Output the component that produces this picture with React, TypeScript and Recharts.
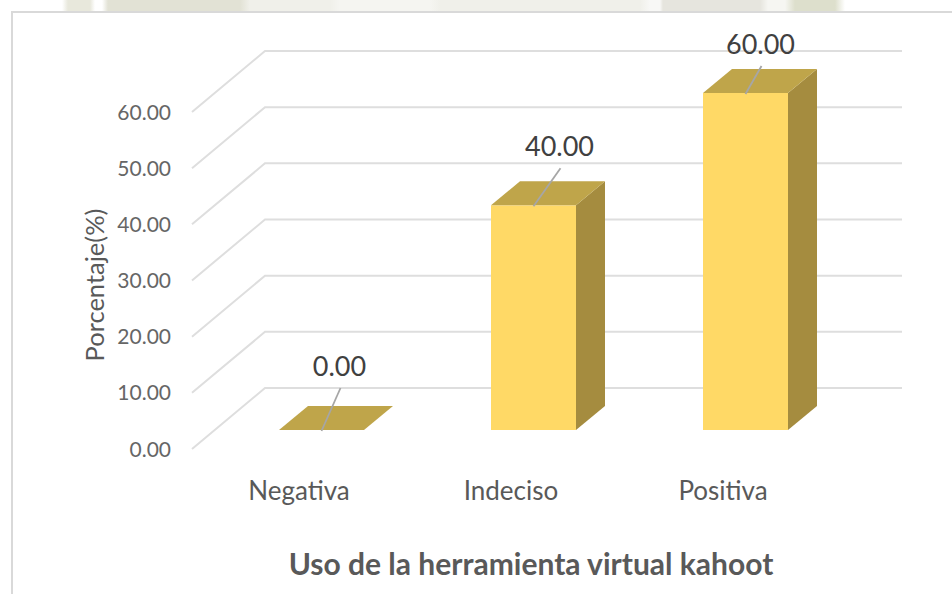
import { BarChart, Bar, XAxis, YAxis, CartesianGrid, LabelList, Label } from "recharts";

const categories = ["Negativa", "Indeciso", "Positiva"];
const percentages = [0, 40, 60];
const yTicks = [0, 10, 20, 30, 40, 50, 60];

const chartData = categories.map((name, i) => ({ name, value: percentages[i] }));

const FONT = "Lato, Carlito, sans-serif";
// oblique depth of the fake 3D box
const DEPTH_X = 29;
const DEPTH_Y = 24;
// leader line end / text nudges for each data label, relative to the bar's top centre
const LABEL_NUDGE = [
  { dx: 19, dy: -42, tx: 18, ty: -65 },
  { dx: 27, dy: -37, tx: 26, ty: -60 },
  { dx: 16, dy: -27, tx: 15, ty: -50 },
];
// faded watermark showing above the chart frame
const WATERMARK =
  "linear-gradient(90deg, #fff 0 62px, #e8e8dc 68px 90px, #fff 95px 102px, #e2e2d5 108px 240px, #f0f0ea 250px 330px, #f5f5f1 340px 430px, #f0f0ea 440px 640px, #f8f8f6 650px 660px, #e6e5de 663px 760px, #f6f6f2 768px 785px, #dddfcc 795px 835px, #fff 845px)";

function Box3D({ x, y, width, height }: any) {
  const top = `M${x},${y} L${x + DEPTH_X},${y - DEPTH_Y} L${x + width + DEPTH_X},${y - DEPTH_Y} L${x + width},${y} Z`;
  const side = `M${x + width},${y} L${x + width + DEPTH_X},${y - DEPTH_Y} L${x + width + DEPTH_X},${y + height - DEPTH_Y} L${x + width},${y + height} Z`;
  return (
    <g>
      {height > 0 && <rect x={x} y={y} width={width} height={height} fill="#FFD966" />}
      {height > 0 && <path d={side} fill="#A58C3F" />}
      <path d={top} fill="#BFA54A" />
    </g>
  );
}

function DataLabel({ x, y, width, value, index }: any) {
  const n = LABEL_NUDGE[index];
  const cx = x + width / 2;
  return (
    <g>
      <line x1={cx} y1={y + 1} x2={cx + n.dx} y2={y + n.dy} stroke="#A6A6A6" strokeWidth={1.8} />
      <text x={cx + n.tx} y={y + n.ty} textAnchor="middle" dominantBaseline="central" fontFamily={FONT} fontSize={27} fill="#404040">
        {Number(value).toFixed(2)}
      </text>
    </g>
  );
}

function WallLine({ x1, x2, y1 }: any) {
  const d = `M${x1 - 23},${y1 + 19} L${x1 + 50},${y1 - 42} L${x2 + 51},${y1 - 42}`;
  return <path d={d} fill="none" stroke="#DEDEDE" strokeWidth={2} />;
}

function ValueTick({ x, y, payload }: any) {
  return (
    <text x={x - 38} y={y + 18} textAnchor="end" dominantBaseline="central" fontFamily={FONT} fontSize={21} fill="#666666">
      {Number(payload.value).toFixed(2)}
    </text>
  );
}

export default function App() {
  return (
    <div style={{ position: "absolute", left: 0, top: 0, width: 952, height: 594, background: "#fff", overflow: "hidden" }}>
      <div style={{ position: "absolute", left: 0, top: 0, width: 952, height: 11, background: WATERMARK }} />
      <div style={{ position: "absolute", left: 11, top: 11, width: 960, height: 600, border: "2px solid #D9D9D9", boxSizing: "border-box" }} />
      <BarChart
        width={952}
        height={594}
        data={chartData}
        margin={{ top: 93, right: 101, bottom: 0, left: 175 }}
        style={{ position: "absolute", left: 0, top: 0 }}
      >
        <CartesianGrid vertical={false} horizontal={(p: any) => <WallLine key={p.index} {...p} />} />
        <XAxis
          dataKey="name"
          axisLine={false}
          tickLine={false}
          height={164}
          tick={{ fontFamily: FONT, fontSize: 26, fill: "#595959", dx: -22, dy: 44 }}
        >
          <Label value="Uso de la herramienta virtual kahoot" position="insideBottom" offset={19} dx={-2} fontFamily={FONT} fontSize={30} fontWeight={700} fill="#595959" />
        </XAxis>
        <YAxis
          width={40}
          domain={[0, 60]}
          ticks={yTicks}
          axisLine={false}
          tickLine={false}
          tickMargin={0}
          tick={<ValueTick />}
        />
        <Bar dataKey="value" barSize={85} shape={<Box3D />} isAnimationActive={false}>
          <LabelList content={<DataLabel />} />
        </Bar>
        <text x={94} y={285} textAnchor="middle" dominantBaseline="central" fontFamily={FONT} fontSize={25.5} fill="#595959" transform="rotate(-90 94 285)">
          Porcentaje(%)
        </text>
      </BarChart>
    </div>
  );
}
